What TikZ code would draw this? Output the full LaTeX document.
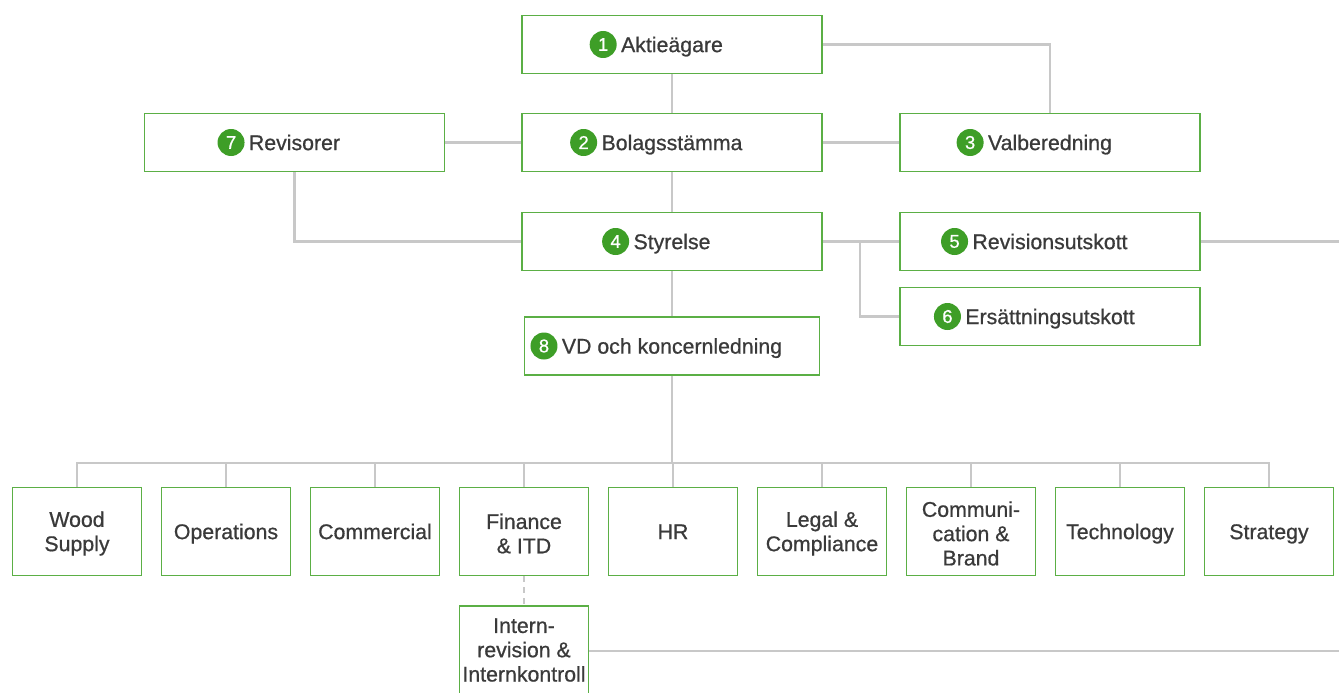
\documentclass[tikz,border=0pt]{standalone}
\usepackage{fontspec}
\setmainfont{Liberation Sans}
\usetikzlibrary{backgrounds}
\definecolor{boxgreen}{HTML}{5BAF45}
\definecolor{badgegreen}{HTML}{3E9E27}
\definecolor{txt}{HTML}{3A3A3A}
\definecolor{conngray}{HTML}{C8C8C8}
\newfontfamily\medfont[FakeBold=0.7]{Liberation Sans}
\begin{document}
\begin{tikzpicture}[x=1pt,y=-1pt,
  box/.style={draw=boxgreen, line width=1.5pt, fill=white, inner sep=0pt, minimum width=300pt, minimum height=58pt},
  unit/.style={draw=boxgreen, line width=1.5pt, fill=white, inner sep=0pt, minimum width=129pt, minimum height=88pt},
  lbl/.style={inner sep=0pt, text=txt, anchor=base, font=\medfont\fontsize{21.3}{24.3}\selectfont},
  badge/.style={circle, fill=badgegreen, text=white, inner sep=0pt, minimum size=27pt, font=\medfont\fontsize{18.5}{18}\selectfont, anchor=east},
  conn/.style={draw=conngray, line width=2.5pt},
]
\useasboundingbox (0,0) rectangle (1339,693);

\coordinate (b1c) at (672,44.5);
\coordinate (b2c) at (672,142.5);
\coordinate (b7c) at (294.5,142.5);
\coordinate (b3c) at (1050,142.5);
\coordinate (b4c) at (672,241.5);
\coordinate (b5c) at (1050,241.5);
\coordinate (b6c) at (1050,316.5);
\coordinate (b8c) at (672,346);

% main boxes
\node[box] (b1) at (b1c) {};
\node[box] (b2) at (b2c) {};
\node[box] (b7) at (b7c) {};
\node[box] (b3) at (b3c) {};
\node[box] (b4) at (b4c) {};
\node[box] (b5) at (b5c) {};
\node[box] (b6) at (b6c) {};
\node[box, minimum width=295pt] (b8) at (b8c) {};

% labels with badges
\node[lbl] (t1) at ([yshift=-7.6pt]b1.center) {Aktieägare};
\node[badge] at ([xshift=-4pt]t1.west |- b1.center) {1};
\node[lbl] (t2) at ([yshift=-7.6pt]b2.center) {Bolagsstämma};
\node[badge] at ([xshift=-4pt]t2.west |- b2.center) {2};
\node[lbl] (t3) at ([yshift=-7.6pt]b3.center) {Valberedning};
\node[badge] at ([xshift=-4pt]t3.west |- b3.center) {3};
\node[lbl] (t4) at ([yshift=-7.6pt]b4.center) {Styrelse};
\node[badge] at ([xshift=-4pt]t4.west |- b4.center) {4};
\node[lbl] (t5) at ([yshift=-7.6pt]b5.center) {Revisionsutskott};
\node[badge] at ([xshift=-4pt]t5.west |- b5.center) {5};
\node[lbl] (t6) at ([yshift=-7.6pt]b6.center) {Ersättningsutskott};
\node[badge] at ([xshift=-4pt]t6.west |- b6.center) {6};
\node[lbl] (t7) at ([yshift=-7.6pt]b7.center) {Revisorer};
\node[badge] at ([xshift=-4pt]t7.west |- b7.center) {7};
\node[lbl] (t8) at ([yshift=-7.6pt]b8.center) {VD och koncernledning};
\node[badge] at ([xshift=-4pt]t8.west |- b8.center) {8};

% bottom units
\node[unit] (d1) at (77,531.5) {};
\node[unit] (d2) at (226,531.5) {};
\node[unit] (d3) at (375,531.5) {};
\node[unit] (d4) at (524,531.5) {};
\node[unit] (d5) at (673,531.5) {};
\node[unit] (d6) at (822,531.5) {};
\node[unit] (d7) at (971,531.5) {};
\node[unit] (d8) at (1120,531.5) {};
\node[unit] (d9) at (1269,531.5) {};
\node[unit, minimum height=90pt] (ik) at (524,651) {};
\node[lbl, align=center, anchor=center] at ([yshift=-2pt]d1.center) {Wood\\Supply};
\node[lbl] at ([yshift=-7.6pt]d2.center) {Operations};
\node[lbl] at ([yshift=-7.6pt]d3.center) {Commercial};
\node[lbl, align=center, anchor=center] at ([yshift=-2pt]d4.center) {Finance\\\& ITD};
\node[lbl] at ([yshift=-7.6pt]d5.center) {HR};
\node[lbl, align=center, anchor=center] at ([yshift=-2pt]d6.center) {Legal \&\\Compliance};
\node[lbl, align=center, anchor=center] at ([yshift=-2pt]d7.center) {Communi-\\cation \&\\Brand};
\node[lbl] at ([yshift=-7.6pt]d8.center) {Technology};
\node[lbl] at ([yshift=-7.6pt]d9.center) {Strategy};
\node[lbl, align=center, anchor=center] at (524,650) {Intern-\\revision \&\\Internkontroll};

\coordinate (edge1) at (1339,241.5);
\coordinate (edge2) at (1339,651);
\coordinate (bus) at (672,463);
\coordinate (split) at (860,241.5);

\begin{scope}[on background layer]
\draw[conn] (b1.east) -| (b3.north);
\draw[conn] (b1.south) -- (b2.north);
\draw[conn] (b7.east) -- (b2.west);
\draw[conn] (b2.east) -- (b3.west);
\draw[conn] (b2.south) -- (b4.north);
\draw[conn] (b7.south) |- (b4.west);
\draw[conn] (b4.east) -- (b5.west);
\draw[conn] (split) |- (b6.west);
\draw[conn] (b5.east) -- (edge1);
\draw[conn] (b4.south) -- (b8.north);
\draw[conn] (b8.south) -- (bus);
\draw[conn] (d1.north) -- (d1.north |- bus) -- (d9.north |- bus) -- (d9.north);
\foreach \i in {2,...,8} {\draw[conn] (d\i.north) -- (d\i.north |- bus);}
\draw[conn, dash pattern=on 6pt off 5pt] (d4.south) -- (ik.north);
\draw[conn] (ik.east) -- (edge2);
\end{scope}
\end{tikzpicture}
\end{document}
